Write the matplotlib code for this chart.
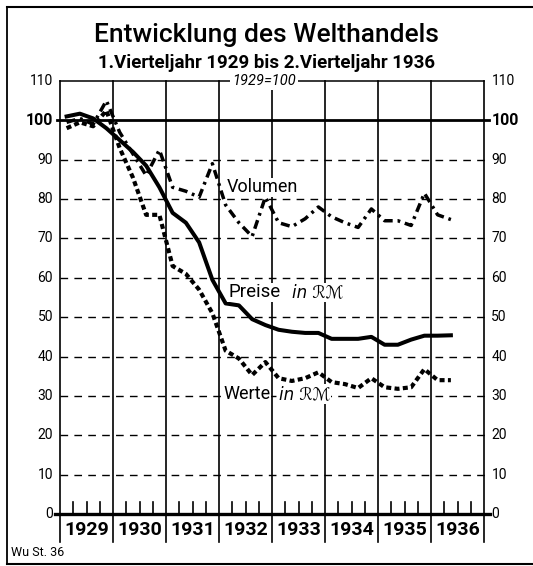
import matplotlib
matplotlib.use("Agg")
import matplotlib.pyplot as plt
from matplotlib import font_manager
from matplotlib.lines import Line2D

# ---------------- data ----------------
years = ["1929", "1930", "1931", "1932", "1933", "1934", "1935", "1936"]
y_ticks = [0, 10, 20, 30, 40, 50, 60, 70, 80, 90, 100, 110]

# quarterly index values, Q1 1929 .. Q2 1936 (1929 = 100)
volumen = [99.5, 100.5, 99.0, 105.0, 97.0, 91.5, 86.0, 92.5,
           83.0, 82.0, 80.5, 89.0, 78.5, 74.0, 70.5, 80.5,
           74.0, 73.0, 75.0, 78.0, 75.5, 74.0, 72.8, 77.5,
           74.5, 74.5, 73.3, 81.5, 76.0, 74.8]
preise = [101.0, 101.7, 100.5, 98.0, 95.0, 92.0, 88.5, 83.0,
          76.5, 74.0, 69.0, 59.5, 53.5, 53.0, 49.5, 48.0,
          46.8, 46.3, 46.0, 46.0, 44.5, 44.5, 44.5, 45.0,
          43.0, 43.0, 44.3, 45.3, 45.3, 45.4]
werte = [98.0, 99.5, 98.5, 102.5, 93.0, 85.5, 76.0, 76.0,
         63.0, 61.0, 57.0, 51.0, 41.5, 39.5, 35.3, 38.6,
         34.5, 33.8, 34.5, 36.0, 33.5, 33.0, 32.0, 34.5,
         32.2, 31.8, 32.2, 36.8, 34.0, 34.0]

title = "Entwicklung des Welthandels"
subtitle = "1.Vierteljahr 1929 bis 2.Vierteljahr 1936"
base_note = "1929=100"
source = "Wu St. 36"

# ---------------- fonts ----------------
names = {f.name for f in font_manager.fontManager.ttflist}
if "Liberation Sans Narrow" in names:
    NAR = ["Liberation Sans Narrow", "DejaVu Sans"]
else:
    NAR = ["Roboto", "DejaVu Sans"]
plt.rcParams["font.family"] = NAR

W, H = 533, 566
fig = plt.figure(figsize=(W / 100, H / 100), dpi=100)
fig.patch.set_facecolor("white")

x0, x1 = 60, 484
ytop, ybot = 81, 514
ax = fig.add_axes([x0 / W, (H - ybot) / H, (x1 - x0) / W, (ybot - ytop) / H])
ax.set_xlim(0, 8)
ax.set_ylim(0, 110)
ax.set_xticks([])
ax.set_yticks([])
for s in ax.spines.values():
    s.set_visible(False)

K = "black"
# dashed grid lines
for v in y_ticks:
    if v in (0, 100, 110):
        continue
    ax.plot([0, 8.06], [v, v], color=K, lw=1.0, dashes=(5.5, 4.5),
            clip_on=False, zorder=1)
# top line, 100 line, 0 line
ax.plot([0, 8], [110, 110], color=K, lw=1.1, clip_on=False, zorder=1)
ax.plot([-0.06, 8.1], [100, 100], color=K, lw=2.0, clip_on=False, zorder=1)
ax.plot([-0.09, 8.11], [0, 0], color=K, lw=2.4, clip_on=False, zorder=2)
# year dividers
for k in range(len(years) + 1):
    ax.plot([k, k], [-7.0, 110], color=K, lw=1.2, clip_on=False, zorder=1)
# quarter ticks
for k in range(len(years) * 4):
    if k % 4:
        ax.plot([k / 4, k / 4], [0, 3.0], color=K, lw=1.2, clip_on=False, zorder=1)

# series
xq = [(i + 0.5) / 4 for i in range(len(preise))]
ax.plot(xq, volumen, color=K, lw=2.5, dashes=(2.6, 1.4, 0.8, 1.4),
        solid_capstyle="butt", dash_capstyle="butt", zorder=4)
ax.plot(xq, werte, color=K, lw=3.0, dashes=(1.2, 0.8),
        dash_capstyle="butt", zorder=4)
ax.plot(xq, preise, color=K, lw=2.9, solid_joinstyle="round", zorder=5)

# tick labels
for v in y_ticks:
    bold = v == 100
    fs = 11.5 if bold else 10
    fw = "bold" if bold else "normal"
    ax.text(-0.13, v, str(v), ha="right", va="center", fontsize=fs,
            fontweight=fw, clip_on=False)
    ax.text(8.14, v, str(v), ha="left", va="center", fontsize=fs,
            fontweight=fw, clip_on=False)

for k, yl in enumerate(years):
    ax.text(k + 0.5, -4.1, yl, ha="center", va="center", fontsize=14,
            fontweight="bold", clip_on=False)

# base note on top line
ax.text((264 - x0) / 53.0, 110, base_note, ha="center", va="center",
        fontsize=10.5, style="italic", clip_on=False,
        bbox=dict(facecolor="white", edgecolor="none", pad=1.5), zorder=6)

# series labels
ax.text((227 - x0) / 53.0, 83.0, "Volumen", ha="left", va="center",
        fontsize=13, zorder=6,
        bbox=dict(facecolor="white", edgecolor="none", pad=0.5))
ax.text((228 - x0) / 53.0, 56.3, "Preise", ha="left", va="center",
        fontsize=13.5, zorder=6,
        bbox=dict(facecolor="white", edgecolor="none", pad=0.5))
ax.text((292 - x0) / 53.0, 56.3, "in ℛℳ", ha="left", va="center",
        fontsize=12, style="italic", zorder=6,
        family=["DejaVu Sans"],
        bbox=dict(facecolor="white", edgecolor="none", pad=0.5))
ax.text((223 - x0) / 53.0, 30.5, "Werte", ha="left", va="center",
        fontsize=13, zorder=6,
        bbox=dict(facecolor="white", edgecolor="none", pad=0.5))
ax.text((279 - x0) / 53.0, 30.5, "in ℛℳ", ha="left", va="center",
        fontsize=12, style="italic", zorder=6,
        family=["DejaVu Sans"],
        bbox=dict(facecolor="white", edgecolor="none", pad=0.5))

# titles
fig.text(0.5, 1 - 35 / H, title, ha="center", va="center", fontsize=19,
         fontweight="medium")
fig.text(0.5, 1 - 63 / H, subtitle, ha="center", va="center", fontsize=13.5,
         fontweight="bold")
fig.text(11 / W, 1 - 553 / H, source, ha="left", va="center", fontsize=9)

# outer frame
fig.add_artist(Line2D([7 / W, 7 / W], [1 - 7 / H, 1 - 564 / H], color=K, lw=1.3))
fig.add_artist(Line2D([7 / W, 1.0], [1 - 7 / H, 1 - 7 / H], color=K, lw=1.5))
fig.add_artist(Line2D([7 / W, 1.0], [1 - 564 / H, 1 - 564 / H], color=K, lw=1.5))

fig.savefig("out.png", dpi=100, facecolor="white")
